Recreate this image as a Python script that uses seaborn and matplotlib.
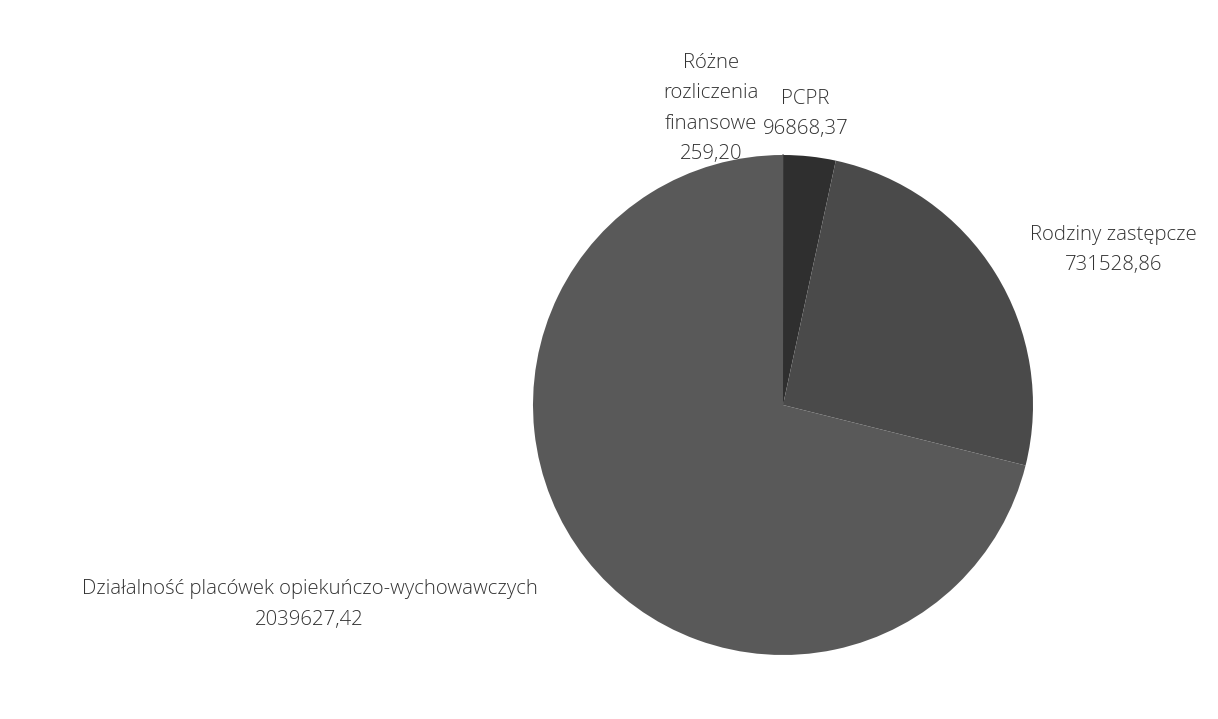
import numpy as np
import matplotlib
matplotlib.use("Agg")
import matplotlib.pyplot as plt
import seaborn as sns

# values (PLN)
categories = [
    "Różne\nrozliczenia\nfinansowe",
    "PCPR",
    "Rodziny zastępcze",
    "Działalność placówek opiekuńczo-wychowawczych",
]
values = [259.20, 96868.37, 731528.86, 2039627.42]
value_labels = ["259,20", "96868,37", "731528,86", "2039627,42"]

sns.set_theme(style="white")
plt.rcParams["font.family"] = ["Open Sans", "DejaVu Sans"]

# greyscale scan – slices in shades of grey
colors = ["#8c8c8c", "#2f2f2f", "#4a4a4a", "#595959"]

fig = plt.figure(figsize=(12.18, 7.19), dpi=100)
ax = fig.add_axes([533 / 1218, 64 / 719, 500 / 1218, 500 / 719])

wedges, _ = ax.pie(values, colors=colors, startangle=90, counterclock=False,
                   radius=1.0, wedgeprops=dict(linewidth=0))
# the tiny slice only shows up as a light hairline
wedges[0].set_edgecolor(colors[0])
wedges[0].set_linewidth(1.2)
ax.set_xlim(-1, 1)
ax.set_ylim(-1, 1)
ax.set_aspect("equal")
ax.axis("off")

# label placement: (radius factor, ha, va, pixel offset)
placing = [
    (1.0, "right", "bottom", (-24, -9)),
    (1.07, "center", "bottom", (-6, 0)),
    (1.15, "left", "center", (3, 3)),
    (1.25, "right", "center", (1, -7)),
]

for w, cat, vl, (rf, ha, va, off) in zip(wedges, categories, value_labels, placing):
    mid = np.deg2rad((w.theta1 + w.theta2) / 2)
    x, y = rf * np.cos(mid), rf * np.sin(mid)
    ax.annotate(f"{cat}\n{vl}", xy=(x, y), xytext=off, textcoords="offset pixels",
                ha=ha, va=va, multialignment="center", fontsize=14.7,
                fontweight="light", color="#333333", linespacing=1.7,
                annotation_clip=False)

plt.savefig("out.png", dpi=100, facecolor="white")
plt.close()
